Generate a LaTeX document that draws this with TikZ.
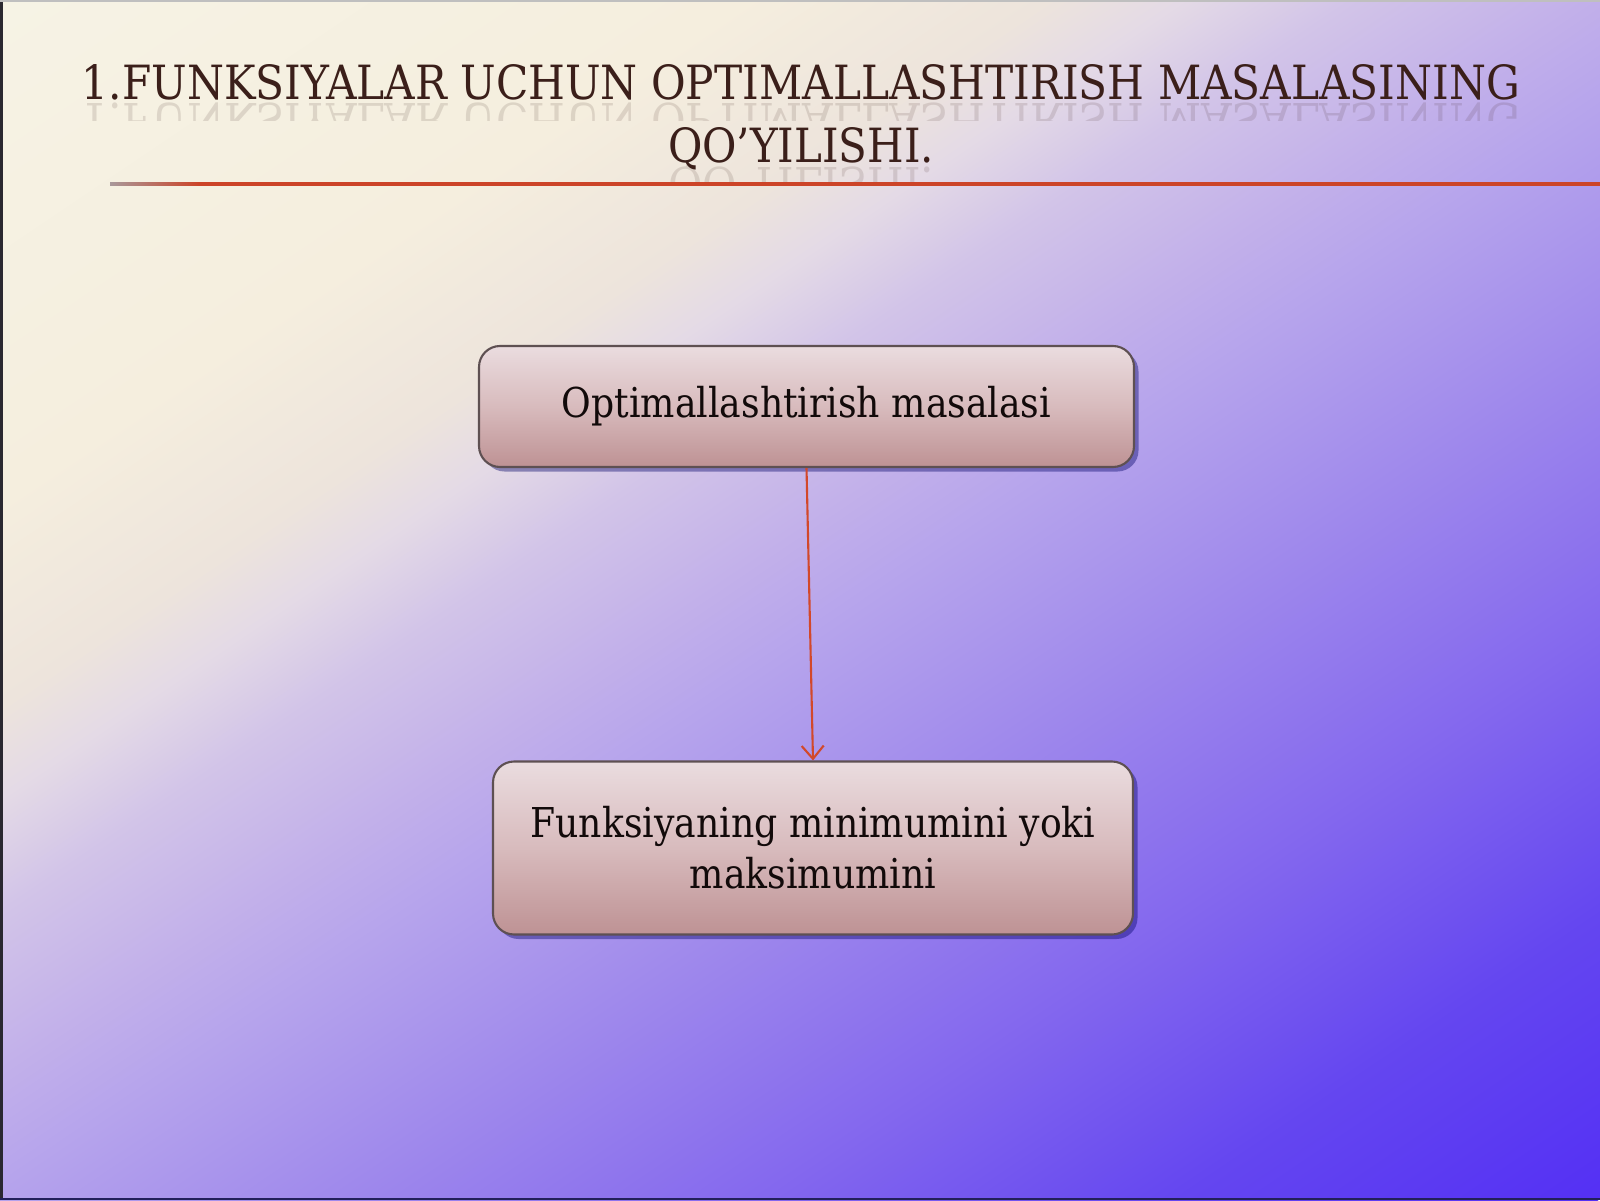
\documentclass[tikz,border=0pt]{standalone}
\usepackage{fontspec}
\usepackage{graphicx}
\usetikzlibrary{arrows.meta,shadows,positioning}

\newfontfamily\titlefont{DejaVu Serif}
\newfontfamily\boxfont[FakeStretch=0.88]{DejaVu Serif}

\definecolor{bgA}{HTML}{F6F3E5}
\definecolor{bgB}{HTML}{F5EEDE}
\definecolor{bgC}{HTML}{EDE4DC}
\definecolor{bgD}{HTML}{E4DAE6}
\definecolor{bgE}{HTML}{D2C4E8}
\definecolor{bgF}{HTML}{C2B0EA}
\definecolor{bgG}{HTML}{B6A4EC}
\definecolor{bgH}{HTML}{A08AEC}
\definecolor{bgI}{HTML}{8468EE}
\definecolor{bgJ}{HTML}{6446F0}
\definecolor{bgK}{HTML}{5430F4}
\definecolor{titleBrown}{HTML}{3B1F1A}
\definecolor{ruleGray}{HTML}{A8989A}
\definecolor{ruleRed}{HTML}{CC4428}
\definecolor{arrowRed}{HTML}{D2482A}
\definecolor{boxTop}{HTML}{EADCDF}
\definecolor{boxMid}{HTML}{D8BBBD}
\definecolor{boxBot}{HTML}{BE9294}
\definecolor{boxLine}{HTML}{5E5052}
\definecolor{boxText}{HTML}{120A0A}
\definecolor{edgeDark}{HTML}{2A2830}

% t = 0 at the top left corner (25bp), t = 1 at the bottom right corner (75bp)
\pgfdeclarehorizontalshading{slidebg}{100bp}{color(0bp)=(bgA); color(25bp)=(bgA);
  color(36bp)=(bgB); color(40.5bp)=(bgC); color(42.5bp)=(bgD); color(45bp)=(bgE);
  color(48.5bp)=(bgF); color(51bp)=(bgG); color(56bp)=(bgH); color(62.5bp)=(bgI);
  color(68.75bp)=(bgJ); color(75bp)=(bgK); color(100bp)=(bgK)}
\pgfdeclarehorizontalshading{rulebg}{100bp}{color(0bp)=(ruleGray); color(25bp)=(ruleGray);
  color(28bp)=(ruleRed); color(100bp)=(ruleRed)}

\begin{document}
\begin{tikzpicture}[
    titletext/.style={inner sep=0, anchor=base, text=titleBrown, font=\titlefont},
    box/.style={draw=boxLine, line width=0.6pt, rounded corners=0.21cm,
      top color=boxTop, bottom color=boxBot, middle color=boxMid,
      drop shadow={shadow xshift=0.045cm, shadow yshift=-0.045cm, opacity=0.4, fill=black!60!blue},
      inner sep=0, align=center, text=boxText,
      font=\boxfont\fontsize{11.7}{14.6}\selectfont},
    flow/.style={draw=arrowRed, line width=0.6pt, -{Straight Barb[length=1.3mm,width=2.2mm]}}
  ]
    \useasboundingbox (0,0) rectangle (16,12);
    \begin{scope}
      \clip (0,0) rectangle (16,12);
      \begin{scope}[transform canvas={shift={(8,6)}, rotate=-56}]
        \shade[shading=slidebg] (-9.44,-10) rectangle (9.44,10);
      \end{scope}
    \end{scope}
    \draw[edgeDark, line width=0.03cm] (0.015,0) -- (0.015,12);
    \draw[edgeDark!80!blue, line width=0.02cm] (0,0.01) -- (16,0.01);
    \draw[black!25, line width=0.02cm] (0,11.99) -- (16,11.99);

    % title
    \node[titletext] (title1) at (8.01,11.00) {\resizebox{14.38cm}{0.35cm}{1.FUNKSIYALAR UCHUN OPTIMALLASHTIRISH MASALASINING}};
    \node[titletext] (title2) at (8.01,10.37) {\resizebox{2.66cm}{0.35cm}{QO’YILISHI.}};
    \begin{scope}
      \clip (0,10.97) rectangle (16,10.79);
      \node[titletext, yscale=-1, opacity=0.13] (title1r) at (8.01,10.96) {\resizebox{14.38cm}{0.35cm}{1.FUNKSIYALAR UCHUN OPTIMALLASHTIRISH MASALASINING}};
    \end{scope}
    \begin{scope}
      \clip (0,10.34) rectangle (16,10.16);
      \node[titletext, yscale=-1, opacity=0.13] (title2r) at (8.01,10.33) {\resizebox{2.66cm}{0.35cm}{QO’YILISHI.}};
    \end{scope}
    \shade[shading=rulebg] (1.10,10.145) rectangle (16,10.175);

    % boxes
    \node[box, minimum width=6.55cm, minimum height=1.21cm] (opt) at (8.065,7.935) {Optimallashtirish masalasi};
    \node[box, minimum width=6.40cm, minimum height=1.73cm] (fun) at (8.13,3.52) {Funksiyaning minimumini yoki\\maksimumini};

    \draw[flow] (opt.south) -- (fun.north);
\end{tikzpicture}
\end{document}
